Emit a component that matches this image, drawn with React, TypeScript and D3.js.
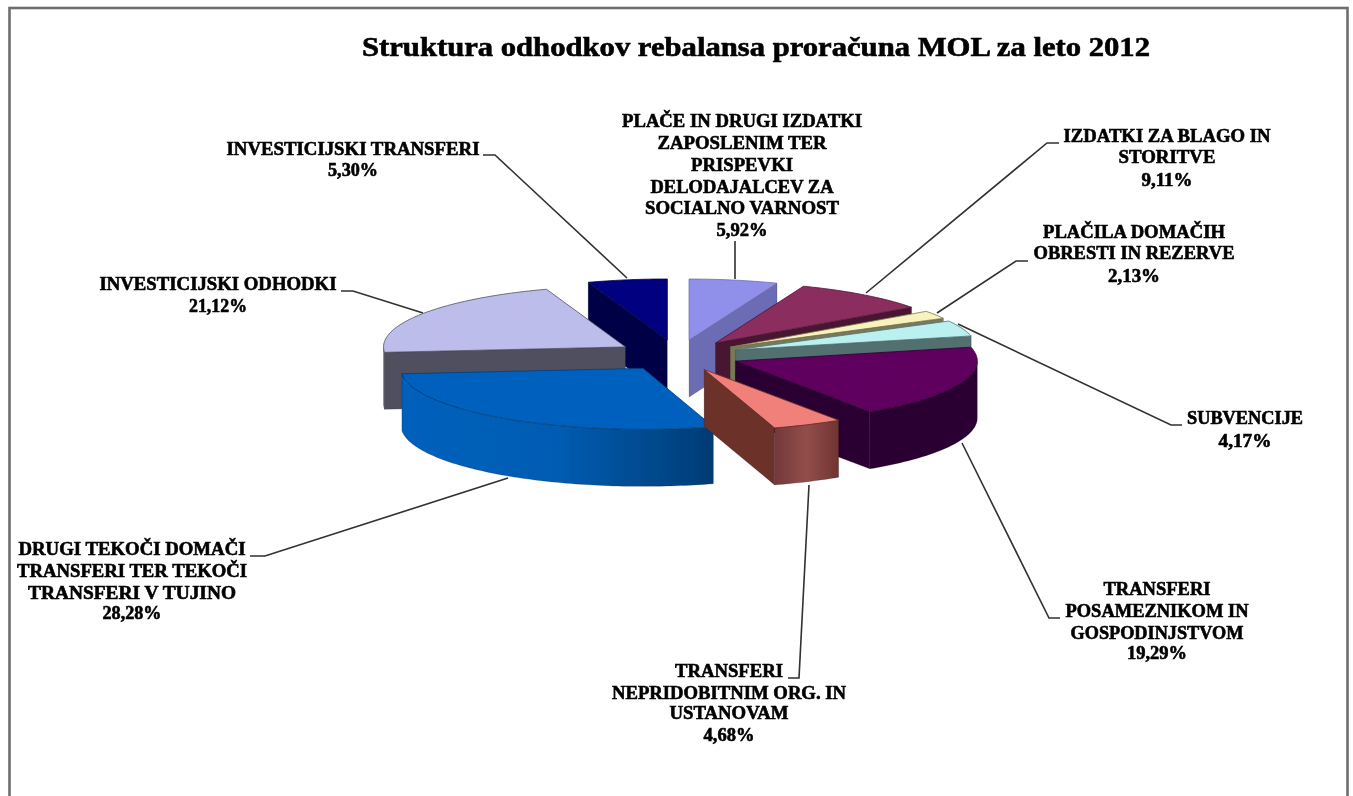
import React from "react";
import * as d3 from "d3";

// ---------- data ----------
const titleText = "Struktura odhodkov rebalansa proračuna MOL za leto 2012";
const categories = [
  ["PLAČE IN DRUGI IZDATKI", "ZAPOSLENIM TER", "PRISPEVKI", "DELODAJALCEV ZA", "SOCIALNO VARNOST"],
  ["IZDATKI ZA BLAGO IN", "STORITVE"],
  ["PLAČILA DOMAČIH", "OBRESTI IN REZERVE"],
  ["SUBVENCIJE"],
  ["TRANSFERI", "POSAMEZNIKOM IN", "GOSPODINJSTVOM"],
  ["TRANSFERI", "NEPRIDOBITNIM ORG. IN", "USTANOVAM"],
  ["DRUGI TEKOČI DOMAČI", "TRANSFERI TER TEKOČI", "TRANSFERI V TUJINO"],
  ["INVESTICIJSKI ODHODKI"],
  ["INVESTICIJSKI TRANSFERI"],
];
const shares = [5.92, 9.11, 2.13, 4.17, 19.29, 4.68, 28.28, 21.12, 5.3];

// ---------- styles and layout ----------
const topColors = ["#9090EA", "#8B2E5F", "#F6F3BC", "#BAF0F0", "#5E005E", "#F2807A", "#0060BE", "#BDBDEC", "#000080"];
const faceColors = ["#6C6CB4", "#4A1433", "#7A7858", "#527070", "#2A0030", "#6C302C", "#003E78", "#50505E", "#000046"];
const arcStops: string[][] = [
  ["#6C6CB4", "#6C6CB4"],
  ["#4A1433", "#4A1433"],
  ["#7A7858", "#7A7858"],
  ["#527070", "#527070"],
  ["#2C0032", "#2C0032"],
  ["#74383A", "#924E4A", "#703431"],
  ["#0060BC", "#005CB2", "#003C74"],
  ["#50505E", "#50505E"],
  ["#000046", "#000046"],
];
const CX = 677.6;
const CY = 355.4;
const RX = 242;
const RY = 61;
const DEPTH = 57;
const EXPLODE = 62;

// per-label layout: centre x, line baselines and line widths (last = percentage)
const labelBoxes = [
  { cx: 742, ys: [127, 149, 171, 193, 214, 236], ws: [240, 169, 102, 183, 194, 51] },
  { cx: 1167, ys: [142, 163, 186], ws: [207, 97, 51] },
  { cx: 1134, ys: [238, 259, 282], ws: [182, 201, 52] },
  { cx: 1245, ys: [424, 447], ws: [116, 53] },
  { cx: 1157, ys: [595, 617, 639, 659], ws: [107, 183, 173, 60] },
  { cx: 729, ys: [677, 699, 719, 741], ws: [108, 234, 119, 51] },
  { cx: 132, ys: [555, 577, 599, 619], ws: [227, 230, 208, 59] },
  { cx: 218, ys: [290, 312], ws: [237, 58] },
  { cx: 353, ys: [155, 176], ws: [253, 50] },
];
const leaders: [number, number][][] = [
  [[735, 241], [735, 279]],
  [[1059, 143], [1047, 143], [866, 293]],
  [[1028, 261], [1016, 261], [937, 313]],
  [[1182, 425], [1171, 425], [958, 324]],
  [[1060, 618], [1049, 618], [962, 443]],
  [[788, 678], [799, 678], [809, 485]],
  [[250, 556], [265, 556], [508, 478]],
  [[341, 291], [353, 291], [423, 313]],
  [[483, 155], [495, 155], [627, 278]],
];

// ---------- geometry ----------
const pieGen = d3.pie<number>().sort(null).startAngle(0).endAngle(2 * Math.PI);
const arcs = pieGen(shares);
const rx = d3.scaleLinear().domain([-1, 1]).range([-RX, RX]);
const ry = d3.scaleLinear().domain([-1, 1]).range([-RY, RY]);
const line = d3.line<[number, number]>();
const lineClosed = d3.line<[number, number]>().curve(d3.curveLinearClosed);

type Pt = [number, number];

function arcPoints(ax: number, ay: number, a0: number, a1: number): Pt[] {
  const n = Math.max(2, Math.ceil((a1 - a0) / 0.02));
  return d3.range(n + 1).map((i) => {
    const t = a0 + ((a1 - a0) * i) / n;
    return [ax + rx(Math.sin(t)), ay + ry(-Math.cos(t))] as Pt;
  });
}

const slices = arcs.map((a, i) => {
  const mid = (a.startAngle + a.endAngle) / 2;
  const ax = CX + (EXPLODE / RX) * rx(Math.sin(mid));
  const ay = CY + (EXPLODE / RX) * ry(-Math.cos(mid));
  const apex: Pt = [ax, ay];
  const rim = arcPoints(ax, ay, a.startAngle, a.endAngle);
  const top = lineClosed([apex, ...rim]) as string;
  const down = (p: Pt): Pt => [p[0], p[1] + DEPTH];
  const faces: { d: string; fill: string; y: number }[] = [];
  const s = rim[0];
  const e = rim[rim.length - 1];
  const cut = (p: Pt) => ({
    d: lineClosed([apex, p, down(p), down(apex)]) as string,
    fill: faceColors[i],
    y: (apex[1] + p[1]) / 2,
  });
  if (Math.sin(a.startAngle) < -1e-3) faces.push(cut(s));
  if (Math.sin(a.endAngle) > 1e-3) faces.push(cut(e));
  const f0 = Math.max(a.startAngle, Math.PI / 2);
  const f1 = Math.min(a.endAngle, (3 * Math.PI) / 2);
  if (f1 > f0) {
    const front = arcPoints(ax, ay, f0, f1);
    faces.push({
      d: lineClosed([...front, ...front.map(down).reverse()]) as string,
      fill: `url(#arc${i})`,
      y: d3.mean(front, (p) => p[1]) as number,
    });
  }
  faces.sort((p, q) => p.y - q.y);
  return { i, ay, top, faces };
});
const paintOrder = d3.sort(slices, (s) => s.ay);

const serif = "'Liberation Serif','Times New Roman',serif";

export default function App() {
  return (
    <svg
      width={1353}
      height={796}
      style={{ position: "absolute", left: 0, top: 0, display: "block", background: "#fff" }}
    >
      <defs>
        {arcStops.map((stops, i) => (
          <linearGradient key={i} id={`arc${i}`} x1="0" x2="1" y1="0" y2="0">
            {stops.map((c, j) => (
              <stop key={j} offset={j / (stops.length - 1)} stopColor={c} />
            ))}
          </linearGradient>
        ))}
        <filter id="soft" x="-2%" y="-2%" width="104%" height="104%">
          <feGaussianBlur stdDeviation={0.45} />
        </filter>
      </defs>
      <g filter="url(#soft)">
        <rect x={9.5} y={8} width={1338} height={800} fill="#fff" stroke="#6e6e6e" strokeWidth={2.6} />
        <text
          x={362}
          y={56}
          fontFamily={serif}
          fontWeight="bold"
          fontSize={27}
          textLength={788}
          lengthAdjust="spacingAndGlyphs"
          fill="#000"
          stroke="#000"
          strokeWidth={0.6}
        >
          {titleText}
        </text>
        {leaders.map((pts, i) => (
          <path key={i} d={line(pts) as string} fill="none" stroke="#303030" strokeWidth={1.6} />
        ))}
        {paintOrder.map((s) => (
          <g key={s.i}>
            {s.faces.map((f, j) => (
              <path key={j} d={f.d} fill={f.fill} stroke="#000" strokeOpacity={0.25} strokeWidth={0.7} />
            ))}
            <path d={s.top} fill={topColors[s.i]} stroke={faceColors[s.i]} strokeWidth={0.8} />
          </g>
        ))}
        {categories.map((lines, i) => {
          const box = labelBoxes[i];
          const pct = shares[i].toFixed(2).replace(".", ",") + "%";
          return [...lines, pct].map((t, j) => (
            <text
              key={`${i}-${j}`}
              x={box.cx}
              y={box.ys[j]}
              textAnchor="middle"
              fontFamily={serif}
              fontWeight="bold"
              fontSize={18.5}
              textLength={box.ws[j]}
              lengthAdjust="spacingAndGlyphs"
              fill="#000"
              stroke="#000"
              strokeWidth={0.6}
            >
              {t}
            </text>
          ));
        })}
      </g>
    </svg>
  );
}
